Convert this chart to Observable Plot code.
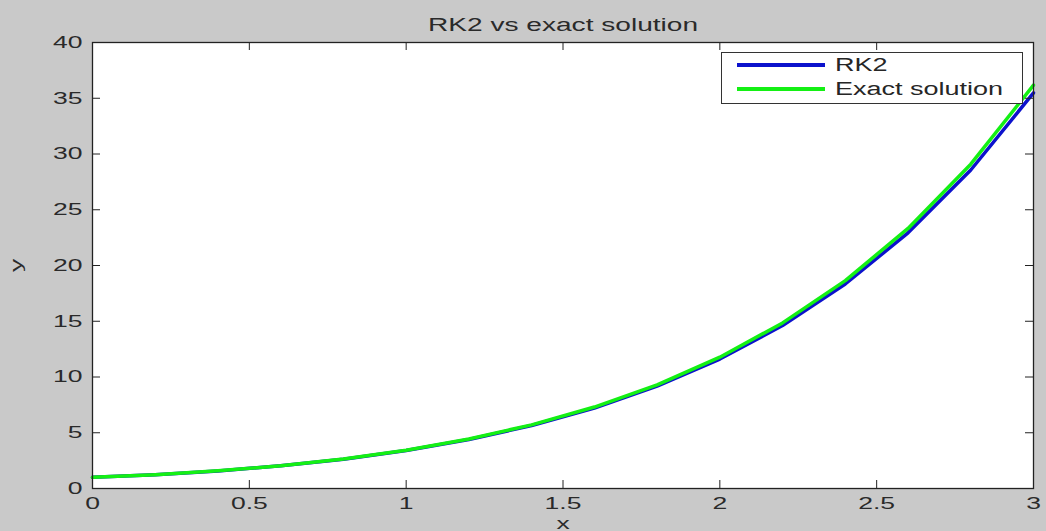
<!DOCTYPE html>
<html>
<head>
<meta charset="utf-8">
<script src="https://cdn.jsdelivr.net/npm/d3@7"></script>
<script src="https://cdn.jsdelivr.net/npm/@observablehq/plot@0.6"></script>
<style>
  body { margin: 0; background: #c9c9c9; }
  #wrap { position: relative; width: 1046px; height: 531px; }
  #legend { position: absolute; left: 721px; top: 52px; width: 302px; height: 52px; box-sizing: border-box;
    background: #fff; border: 1px solid #333; font-family: "Liberation Sans", Arial, sans-serif;
    font-size: 18px; line-height: 18px; color: #262626; }
  .sw { position: absolute; left: 15px; width: 88px; height: 4px; }
  .lt { position: absolute; left: 113px; transform: scaleX(1.5); transform-origin: left center; white-space: nowrap; }
</style>
</head>
<body>
<div id="wrap"></div>
<script>
const xs = [0, 0.2, 0.4, 0.6, 0.8, 1.0, 1.2, 1.4, 1.6, 1.8, 2.0, 2.2, 2.4, 2.6, 2.8, 3.0];
const rk2 = [1, 1.24, 1.577, 2.032, 2.631, 3.405, 4.395, 5.645, 7.215, 9.175, 11.609, 14.623, 18.344, 22.928, 28.564, 35.485];
const exact = [1, 1.243, 1.584, 2.044, 2.651, 3.437, 4.440, 5.710, 7.306, 9.299, 11.778, 14.850, 18.646, 23.327, 29.089, 36.171];
const xTicks = [0, 0.5, 1, 1.5, 2, 2.5, 3];
const yTicks = [0, 5, 10, 15, 20, 25, 30, 35, 40];
const seriesNames = ["RK2", "Exact solution"];
const seriesColors = ["#0c12cc", "#14f014"];

const rows = [];
xs.forEach((x, i) => rows.push({x, y: rk2[i], s: seriesNames[0]}));
xs.forEach((x, i) => rows.push({x, y: exact[i], s: seriesNames[1]}));

const W = 1046, H = 531, mL = 92, mR = 13, mT = 42, mB = 43;
const innerW = W - mL - mR, innerH = H - mT - mB;
const font = "Liberation Sans, Arial, sans-serif";

const chart = Plot.plot({
  width: W, height: H,
  marginLeft: mL, marginRight: mR, marginTop: mT, marginBottom: mB,
  style: {background: "#c9c9c9", fontFamily: font, color: "#2a2a2a"},
  x: {domain: [0, 3]},
  y: {domain: [0, 40]},
  color: {domain: seriesNames, range: seriesColors},
  marks: [
    Plot.frame({fill: "white", stroke: "none"}),
    Plot.line(rows, {x: "x", y: "y", z: "s", stroke: "s", strokeWidth: 3.5, strokeLinejoin: "round"}),
    Plot.ruleX(xTicks, {x: d => d, insetTop: innerH - 8, stroke: "#222", strokeWidth: 1}),
    Plot.ruleX(xTicks, {x: d => d, insetBottom: innerH - 8, stroke: "#222", strokeWidth: 1}),
    Plot.ruleY(yTicks, {y: d => d, insetRight: innerW - 8, stroke: "#222", strokeWidth: 1}),
    Plot.ruleY(yTicks, {y: d => d, insetLeft: innerW - 8, stroke: "#222", strokeWidth: 1}),
    Plot.frame({stroke: "#222", strokeWidth: 1.3}),
    Plot.axisX(xTicks, {tickSize: 0, tickPadding: 8, fontSize: 17, label: "x", labelAnchor: "center", labelArrow: "none", labelOffset: 40, tickFormat: d => String(d)}),
    Plot.axisY(yTicks, {tickSize: 0, tickPadding: 10, fontSize: 17, label: "y", labelAnchor: "center", labelArrow: "none", labelOffset: 83}),
    Plot.text(["RK2 vs exact solution"], {frameAnchor: "top", lineAnchor: "middle", dy: -17, fontSize: 18, fill: "#2a2a2a"})
  ]
});
const wrap = document.getElementById("wrap");
wrap.appendChild(chart);

// stretch texts horizontally like the reference raster
chart.querySelectorAll("text").forEach(t => {
  const L = t.getComputedTextLength();
  if (L > 0) {
    t.setAttribute("textLength", L * 1.56);
    t.setAttribute("lengthAdjust", "spacingAndGlyphs");
  }
});

const legend = document.createElement("div");
legend.id = "legend";
const swTops = [10, 34];
const txTops = [3, 27];
seriesNames.forEach((n, i) => {
  const sw = document.createElement("div");
  sw.className = "sw";
  sw.style.top = swTops[i] + "px";
  sw.style.background = seriesColors[i];
  legend.appendChild(sw);
  const t = document.createElement("span");
  t.className = "lt";
  t.style.top = txTops[i] + "px";
  t.textContent = n;
  legend.appendChild(t);
});
wrap.appendChild(legend);
</script>
</body>
</html>
